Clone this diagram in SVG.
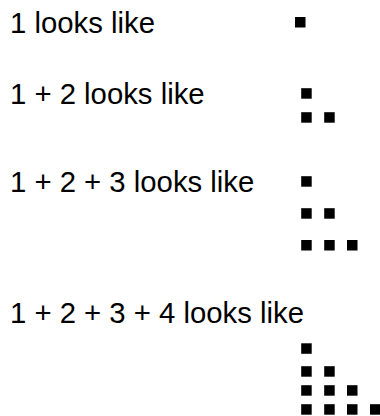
<svg xmlns="http://www.w3.org/2000/svg" width="380" height="416" viewBox="0 0 380 416">
<style>
text{font-family:"Liberation Sans",Arial,sans-serif;font-size:29.3px;fill:#000}
.d{fill:#000}
</style>
<rect width="380" height="416" fill="#fff"/>
<g id="row1">
<text x="10" y="33">1 looks like</text>
<rect class="d" x="295" y="17" width="10.5" height="10.5"/>
</g>
<g id="row2">
<text x="10" y="104">1 + 2 looks like</text>
<rect class="d" x="301.2" y="88.2" width="10.5" height="10.5"/>
<rect class="d" x="301.2" y="112.2" width="10.5" height="10.5"/>
<rect class="d" x="324.2" y="112.2" width="10.5" height="10.5"/>
</g>
<g id="row3">
<text x="10" y="192">1 + 2 + 3 looks like</text>
<rect class="d" x="301.2" y="176.2" width="10.5" height="10.5"/>
<rect class="d" x="301.2" y="208.2" width="10.5" height="10.5"/>
<rect class="d" x="324.2" y="208.2" width="10.5" height="10.5"/>
<rect class="d" x="301.2" y="240" width="10.5" height="10.5"/>
<rect class="d" x="324.2" y="240" width="10.5" height="10.5"/>
<rect class="d" x="347" y="240" width="10.5" height="10.5"/>
</g>
<g id="row4">
<text x="10" y="323">1 + 2 + 3 + 4 looks like</text>
<rect class="d" x="301.2" y="343.3" width="10.5" height="10.5"/>
<rect class="d" x="301.2" y="366.2" width="10.5" height="10.5"/>
<rect class="d" x="324.2" y="366.2" width="10.5" height="10.5"/>
<rect class="d" x="301.2" y="385.2" width="10.5" height="10.5"/>
<rect class="d" x="324.2" y="385.2" width="10.5" height="10.5"/>
<rect class="d" x="347" y="385.2" width="10.5" height="10.5"/>
<rect class="d" x="301.2" y="404.2" width="10.5" height="10.5"/>
<rect class="d" x="324.2" y="404.2" width="10.5" height="10.5"/>
<rect class="d" x="347" y="404.2" width="10.5" height="10.5"/>
<rect class="d" x="370" y="404.2" width="10.5" height="10.5"/>
</g>
</svg>
